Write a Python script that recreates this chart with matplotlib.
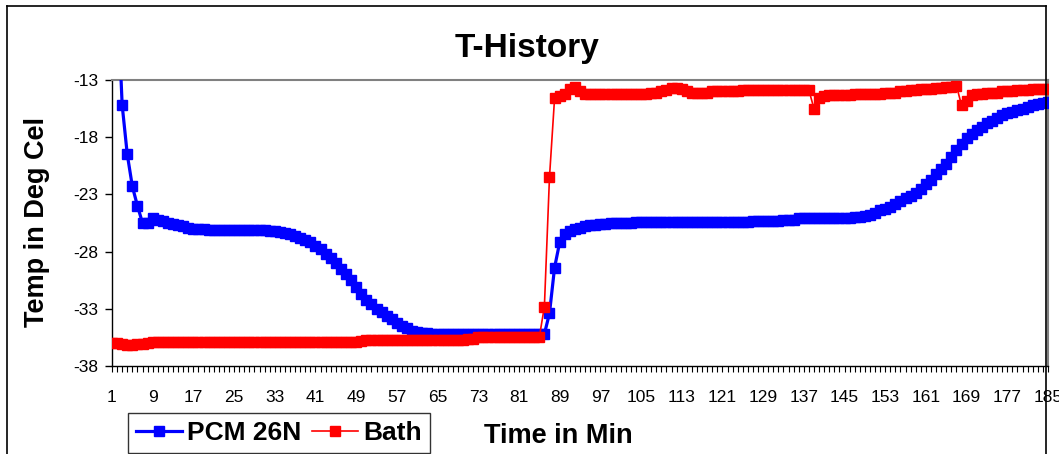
import numpy as np
import matplotlib.pyplot as plt
from matplotlib.lines import Line2D

plt.rcParams["font.family"] = ["Liberation Sans", "DejaVu Sans"]
plt.rcParams["axes.unicode_minus"] = False

# ---- data (one value per minute 1..185) -------------------------------------
minutes = list(range(1, 186))

pcm_26n = [
    8.0, -5.0, -15.2, -19.5, -22.3, -24.0, -25.5, -25.5, -25.1, -25.2,
    -25.3, -25.5, -25.6, -25.7, -25.8, -25.9, -26.0, -26.0, -26.0, -26.1,
    -26.1, -26.1, -26.1, -26.1, -26.1, -26.1, -26.1, -26.1, -26.1, -26.1,
    -26.1, -26.2, -26.2, -26.3, -26.4, -26.5, -26.6, -26.8, -27.0, -27.2,
    -27.5, -27.8, -28.2, -28.6, -29.0, -29.5, -30.0, -30.5, -31.1, -31.7,
    -32.2, -32.6, -33.0, -33.3, -33.6, -33.9, -34.2, -34.5, -34.7, -34.9,
    -35.0, -35.1, -35.1, -35.2, -35.2, -35.2, -35.2, -35.2, -35.2, -35.2,
    -35.2, -35.2, -35.2, -35.2, -35.2, -35.2, -35.2, -35.2, -35.2, -35.2,
    -35.2, -35.2, -35.2, -35.2, -35.2, -35.2, -33.4, -29.4, -27.2, -26.5,
    -26.2, -26.0, -25.9, -25.8, -25.7, -25.7, -25.6, -25.6, -25.5, -25.5,
    -25.5, -25.5, -25.5, -25.4, -25.4, -25.4, -25.4, -25.4, -25.4, -25.4,
    -25.4, -25.4, -25.4, -25.4, -25.4, -25.4, -25.4, -25.4, -25.4, -25.4,
    -25.4, -25.4, -25.4, -25.4, -25.4, -25.4, -25.3, -25.3, -25.3, -25.3,
    -25.3, -25.3, -25.2, -25.2, -25.2, -25.1, -25.1, -25.1, -25.1, -25.1,
    -25.1, -25.1, -25.1, -25.1, -25.1, -25.1, -25.0, -25.0, -24.9, -24.8,
    -24.6, -24.4, -24.3, -24.1, -23.8, -23.6, -23.3, -23.1, -22.9, -22.5,
    -22.1, -21.7, -21.2, -20.8, -20.3, -19.7, -19.1, -18.6, -18.1, -17.7,
    -17.4, -17.1, -16.8, -16.6, -16.3, -16.1, -15.9, -15.8, -15.6, -15.5,
    -15.4, -15.2, -15.1, -15.0, -14.9,
]

bath = [
    -36.0, -36.0, -36.1, -36.2, -36.2, -36.1, -36.1, -36.0, -35.9, -35.9,
    -35.9, -35.9, -35.9, -35.9, -35.9, -35.9, -35.9, -35.9, -35.9, -35.9,
    -35.9, -35.9, -35.9, -35.9, -35.9, -35.9, -35.9, -35.9, -35.9, -35.9,
    -35.9, -35.9, -35.9, -35.9, -35.9, -35.9, -35.9, -35.9, -35.9, -35.9,
    -35.9, -35.9, -35.9, -35.9, -35.9, -35.9, -35.9, -35.9, -35.9, -35.8,
    -35.7, -35.7, -35.7, -35.7, -35.7, -35.7, -35.7, -35.7, -35.7, -35.7,
    -35.7, -35.7, -35.7, -35.7, -35.7, -35.7, -35.7, -35.7, -35.7, -35.7,
    -35.6, -35.6, -35.5, -35.5, -35.5, -35.5, -35.5, -35.5, -35.5, -35.5,
    -35.5, -35.5, -35.5, -35.5, -35.5, -32.8, -21.5, -14.6, -14.4, -14.2,
    -13.8, -13.6, -14.0, -14.2, -14.2, -14.2, -14.2, -14.2, -14.2, -14.2,
    -14.2, -14.2, -14.2, -14.2, -14.2, -14.2, -14.1, -14.1, -14.0, -13.9,
    -13.7, -13.7, -13.8, -14.0, -14.1, -14.1, -14.1, -14.1, -14.0, -14.0,
    -14.0, -14.0, -14.0, -14.0, -13.9, -13.9, -13.9, -13.9, -13.9, -13.9,
    -13.9, -13.9, -13.9, -13.9, -13.9, -13.9, -13.9, -13.9, -15.5, -14.6,
    -14.4, -14.3, -14.3, -14.3, -14.3, -14.3, -14.2, -14.2, -14.2, -14.2,
    -14.2, -14.2, -14.1, -14.1, -14.1, -14.0, -14.0, -13.9, -13.9, -13.8,
    -13.8, -13.8, -13.7, -13.7, -13.6, -13.6, -13.5, -15.2, -14.8, -14.3,
    -14.2, -14.2, -14.1, -14.1, -14.1, -14.0, -14.0, -14.0, -13.9, -13.9,
    -13.9, -13.8, -13.8, -13.8, -13.8,
]

y_ticks = [-38, -33, -28, -23, -18, -13]
x_label_ticks = list(range(1, 186, 8))

# ---- plot ---------------------------------------------------------------------
W, H = 1059, 454
fig = plt.figure(figsize=(W / 100, H / 100), dpi=100)
ax = fig.add_axes([112 / W, 1 - 366 / H, (1048 - 112) / W, (366 - 80) / H])

ax.plot(minutes, pcm_26n, color="#0000ff", lw=2.3, marker="s", ms=6.5,
        label="PCM 26N", zorder=3)
ax.plot(minutes, bath, color="#ff0000", lw=1.2, marker="s", ms=6.5,
        label="Bath", zorder=4)

ax.set_xlim(1, 185)
ax.set_ylim(-38, -13)
ax.set_yticks(y_ticks)
ax.set_xticks(x_label_ticks)
ax.set_xticks(minutes, minor=True)
ax.tick_params(axis="both", labelsize=12.5, direction="out")
ax.tick_params(axis="y", length=5, width=1, pad=5)
ax.tick_params(axis="x", which="major", length=4, width=0.8, pad=13)
ax.tick_params(axis="x", which="minor", length=4, width=0.8)

for side in ("top", "right"):
    ax.spines[side].set_color("#808080")
    ax.spines[side].set_linewidth(1.5)
for side in ("left", "bottom"):
    ax.spines[side].set_color("black")
    ax.spines[side].set_linewidth(1)

# chart-area border (cropped at the bottom)
fig.add_artist(Line2D([7 / W, 7 / W], [0, 1 - 6 / H], color="black", lw=1.2))
fig.add_artist(Line2D([1046 / W, 1046 / W], [0, 1 - 6 / H], color="black", lw=1.2))
fig.add_artist(Line2D([7 / W, 1046 / W], [1 - 6 / H, 1 - 6 / H], color="black", lw=1.2))

fig.text(527 / W, 1 - 57 / H, "T-History", ha="center", va="baseline",
         fontsize=24, fontweight="bold")
fig.text(37 / W, 1 - 222 / H, "Temp in Deg Cel", ha="center", va="center",
         rotation=90, fontsize=19.5, fontweight="bold")
fig.text(558 / W, 1 - 443 / H, "Time in Min", ha="center", va="baseline",
         fontsize=19.5, fontweight="bold")

fig.legend(loc="upper left", bbox_to_anchor=(128 / W, 1 - 413 / H), ncol=2,
           prop={"size": 19, "weight": "bold"}, frameon=True, fancybox=False,
           edgecolor="black", borderpad=0.3, handlelength=1.75,
           handletextpad=0.2, columnspacing=0.4, borderaxespad=0)

fig.savefig("out.png", dpi=100)
